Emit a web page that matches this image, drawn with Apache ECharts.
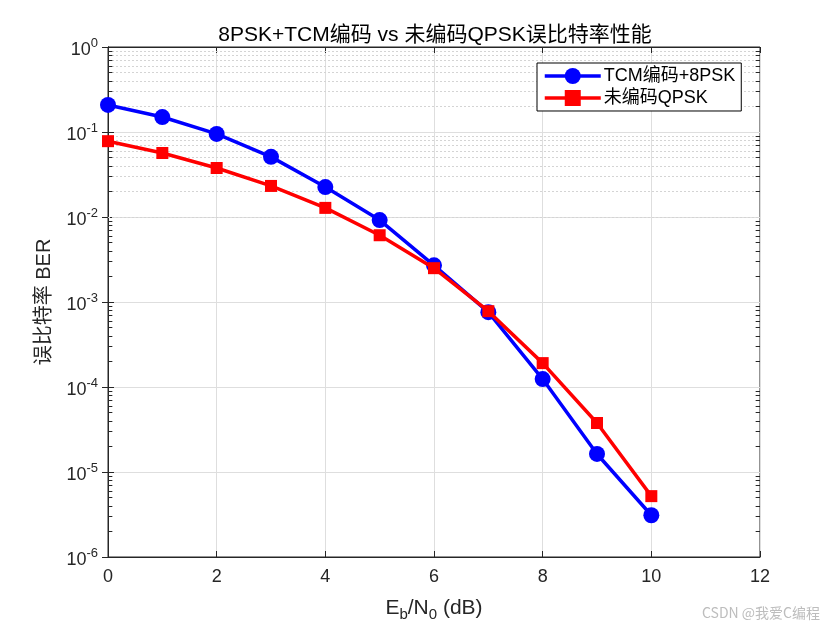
<!DOCTYPE html>
<html>
<head>
<meta charset="utf-8">
<script src="https://cdn.jsdelivr.net/npm/echarts@6/dist/echarts.min.js"></script>
<style>
  html, body { margin: 0; padding: 0; background: #fff; }
  #main { width: 840px; height: 630px; }
</style>
</head>
<body>
<div id="main"></div>
<script>
// Eb/N0 (dB)
var ebn0 = [0, 1, 2, 3, 4, 5, 6, 7, 8, 9, 10];
// TCM + 8PSK BER
var berTcm = [0.208, 0.15, 0.095, 0.051, 0.0225, 0.0092, 0.0027, 0.00076, 0.000124, 1.63e-5, 3.1e-6];
// uncoded QPSK BER
var berQpsk = [0.078, 0.0566, 0.0377, 0.0232, 0.0128, 0.0061, 0.0025, 0.00078, 0.000191, 3.77e-5, 5.2e-6];
var decades = [-6, -5, -4, -3, -2, -1, 0];

var font = '"Liberation Sans", Arial, "Noto Sans CJK SC", sans-serif';

function pairs(xs, ys) {
    return xs.map(function(x, i) { return [x, ys[i]]; });
}

// minor grid / minor ticks for log axis (2..9 x 10^k)
var minorVals = [];
for (var k = decades[0]; k < decades[decades.length - 1]; k++) {
    for (var m = 2; m <= 9; m++) minorVals.push(m * Math.pow(10, k));
}
var minorGrid = minorVals.map(function(v) { return {yAxis: v}; });
var minorTicks = [];
minorVals.forEach(function(v) {
    minorTicks.push([{coord: [0, v]}, {coord: [0.08, v]}]);
    minorTicks.push([{coord: [11.92, v]}, {coord: [12, v]}]);
});

function powLabel(v) {
    var e = Math.round(Math.log10(v));
    return '{b|10}{s|' + e + '}';
}

var chart = echarts.init(document.getElementById('main'));

var option = {
    backgroundColor: '#fff',
    animation: false,
    textStyle: {fontFamily: font},
    title: {
        text: '8PSK+TCM编码 vs 未编码QPSK误比特率性能',
        left: 430,
        top: 20,
        textAlign: 'center',
        textStyle: {fontSize: 21, fontWeight: 'normal', color: '#000', fontFamily: font}
    },
    legend: {
        data: ['TCM编码+8PSK', '未编码QPSK'],
        orient: 'vertical',
        left: 537,
        top: 63,
        backgroundColor: '#fff',
        borderColor: '#000',
        borderWidth: 1,
        padding: [4, 6, 4, 6],
        itemGap: 4,
        itemWidth: 56,
        itemHeight: 20,
        lineStyle: {width: 3.5},
        textStyle: {fontSize: 18, color: '#000', fontFamily: font, padding: [0, 0, 0, -2]}
    },
    grid: {
        left: 108, right: 80, top: 47, bottom: 73,
        show: true, borderColor: '#262626', borderWidth: 1,
        containLabel: false
    },
    xAxis: [{
        type: 'value',
        min: 0, max: 12, interval: 2,
        name: '{n|E}{sub|b}{n|/N}{sub|0}{n| (dB)}',
        nameLocation: 'middle',
        nameGap: 38,
        nameTextStyle: {
            rich: {
                n: {fontSize: 21, color: '#262626', fontFamily: font},
                sub: {fontSize: 15, color: '#262626', fontFamily: font, padding: [12, 0, 0, 0]}
            }
        },
        axisLine: {show: true, lineStyle: {color: '#262626'}},
        axisTick: {inside: true, length: 6, lineStyle: {color: '#262626'}},
        axisLabel: {fontSize: 18, color: '#262626', margin: 11},
        splitLine: {show: true, lineStyle: {color: '#dedede', width: 1}}
    }, {
        type: 'value',
        position: 'top',
        min: 0, max: 12, interval: 2,
        axisLine: {show: true, lineStyle: {color: '#262626'}},
        axisTick: {inside: true, length: 6, lineStyle: {color: '#262626'}},
        axisLabel: {show: false},
        splitLine: {show: false}
    }],
    yAxis: [{
        type: 'log',
        logBase: 10,
        min: 1e-6, max: 1,
        splitNumber: 6,
        name: '误比特率 BER',
        nameLocation: 'middle',
        nameGap: 54,
        nameTextStyle: {fontSize: 20, color: '#262626', fontFamily: font},
        axisLine: {show: true, lineStyle: {color: '#262626'}},
        axisTick: {inside: true, length: 6, lineStyle: {color: '#262626'}},
        axisLabel: {
            formatter: powLabel,
            margin: 10,
            rich: {
                b: {fontSize: 18, color: '#262626', fontFamily: font, padding: [6, 0, 0, 0]},
                s: {fontSize: 13, color: '#262626', fontFamily: font, padding: [0, 0, 8, 0]}
            }
        },
        splitLine: {show: true, lineStyle: {color: '#dedede', width: 1}}
    }, {
        type: 'log',
        logBase: 10,
        min: 1e-6, max: 1,
        splitNumber: 6,
        position: 'right',
        axisLine: {show: true, lineStyle: {color: '#262626'}},
        axisTick: {inside: true, length: 6, lineStyle: {color: '#262626'}},
        axisLabel: {show: false},
        splitLine: {show: false}
    }],
    series: [{
        name: 'minor',
        type: 'line',
        data: [],
        z: 1,
        silent: true,
        markLine: {
            z: 1,
            silent: true,
            symbol: 'none',
            label: {show: false},
            animation: false,
            lineStyle: {color: '#d4d4d4', type: [2, 2], width: 1},
            data: minorGrid
        }
    }, {
        name: 'minorTicks',
        type: 'line',
        data: [],
        z: 1,
        silent: true,
        markLine: {
            z: 1,
            silent: true,
            symbol: 'none',
            label: {show: false},
            animation: false,
            lineStyle: {color: '#262626', type: 'solid', width: 1},
            data: minorTicks
        }
    }, {
        name: 'TCM编码+8PSK',
        type: 'line',
        data: pairs(ebn0, berTcm),
        z: 10,
        symbol: 'circle',
        symbolSize: 16,
        lineStyle: {color: '#0000ff', width: 3.5},
        itemStyle: {color: '#0000ff'}
    }, {
        name: '未编码QPSK',
        type: 'line',
        data: pairs(ebn0, berQpsk),
        z: 11,
        symbol: 'rect',
        symbolSize: 12,
        lineStyle: {color: '#ff0000', width: 3.5},
        itemStyle: {color: '#ff0000'}
    }],
    graphic: [{
        type: 'text',
        left: 702,
        top: 606,
        style: {
            text: 'CSDN @我爱C编程',
            fill: '#bdbdbd',
            font: '14px "Noto Sans CJK SC", sans-serif'
        }
    }]
};

chart.setOption(option);
</script>
</body>
</html>
